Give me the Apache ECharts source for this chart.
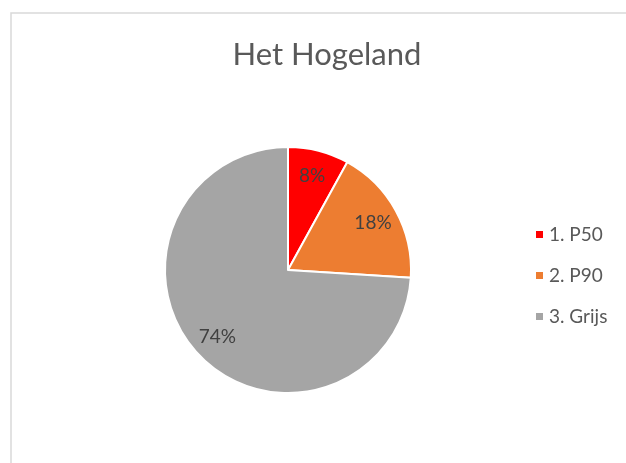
<!DOCTYPE html>
<html>
<head>
<meta charset="utf-8">
<script src="https://cdn.jsdelivr.net/npm/echarts@6/dist/echarts.min.js"></script>
<style>
  html, body { margin: 0; padding: 0; background: #fff; }
  #chart { width: 626px; height: 463px; }
</style>
</head>
<body>
<div id="chart"></div>
<script>
const categories = ["1. P50", "2. P90", "3. Grijs"];
const shares = [8, 18, 74];
const colors = ["#ff0000", "#ed7d31", "#a5a5a5"];

(() => {
  let myChart = echarts.init(document.querySelector("#chart"));
  let pieData = categories.map((name, i) => ({
    name: name,
    value: shares[i],
    itemStyle: { color: colors[i] },
  }));
  let option = {
    animation: false,
    title: {
      text: "Het Hogeland",
      left: 322,
      top: 34,
      textAlign: "center",
      textStyle: {
        fontFamily: "Lato",
        fontWeight: "normal",
        fontSize: 31,
        color: "#595959",
      },
    },
    legend: {
      orient: "vertical",
      left: 529,
      top: 220,
      itemWidth: 9,
      itemHeight: 9,
      itemGap: 22,
      icon: "rect",
      data: categories,
      textStyle: {
        fontFamily: "Lato",
        fontSize: 19,
        color: "#595959",
      },
    },
    graphic: [
      {
        type: "rect",
        shape: { x: 11, y: 13, width: 700, height: 500 },
        style: { fill: "none", stroke: "#d9d9d9", lineWidth: 1.5 },
        silent: true,
      },
    ],
    series: [
      {
        name: "pie",
        type: "pie",
        center: [288, 270],
        radius: [0, 123],
        startAngle: 90,
        clockwise: true,
        label: { show: false },
        labelLine: { show: false },
        itemStyle: { borderColor: "#fff", borderWidth: 2 },
        data: pieData,
      },
      {
        name: "labels",
        type: "pie",
        center: [288, 270],
        radius: [65, 123],
        startAngle: 90,
        clockwise: true,
        silent: true,
        legendHoverLink: false,
        itemStyle: { color: "transparent" },
        label: {
          show: true,
          position: "inside",
          formatter: "{c}%",
          fontFamily: "Lato",
          fontSize: 19,
          color: "#404040",
        },
        labelLine: { show: false },
        data: categories.map((name, i) => ({ name: name + " ", value: shares[i] })),
      },
    ],
  };
  myChart.setOption(option);
  window.addEventListener("resize", () => {
    myChart.resize();
  });
})();
</script>
</body>
</html>
